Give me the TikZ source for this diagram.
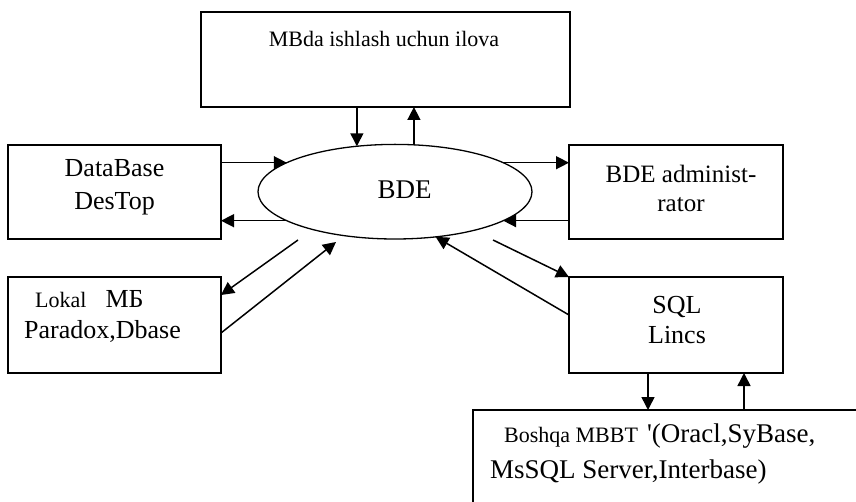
\documentclass[tikz,border=0pt]{standalone}
\usepackage{fontspec}
\setmainfont{Liberation Serif}
\usetikzlibrary{arrows.meta,shapes.geometric}
\tikzset{
    box/.style={draw,line width=1.6pt,inner sep=0pt,outer sep=0pt},
    link/.style={line width=1.5pt,-{Triangle[length=13pt,width=13pt]}},
    bigtxt/.style={font=\fontsize{26}{32}\selectfont,inner sep=0pt},
    smalltxt/.style={font=\fontsize{22}{26}\selectfont,inner sep=0pt},
}
\newcommand{\smallfnt}{\fontsize{22}{26}\selectfont}

\begin{document}
\begin{tikzpicture}[x=1pt,y=-1pt]
\path[use as bounding box,clip] (0,0) rectangle (856,502);

\node[box,minimum width=369pt,minimum height=95pt] (topbox) at (385.5,59.5) {};
\node[box,minimum width=213pt,minimum height=94pt] (dbbox) at (114.5,192) {};
\node[box,minimum width=214pt,minimum height=94pt] (admbox) at (676,192) {};
\node[box,minimum width=213pt,minimum height=96pt] (lokbox) at (114.5,325) {};
\node[box,minimum width=214pt,minimum height=96pt] (sqlbox) at (676,325) {};
\node[box,minimum width=427pt,minimum height=130pt] (othbox) at (686.5,475) {};
\node[draw,ellipse,line width=1.3pt,minimum width=274pt,minimum height=94.6pt,
    inner sep=0pt,outer sep=0pt] (bde) at (395,191.7) {};

% texts (base = last line)
\node[smalltxt,anchor=base] (toptxt) at (384,47) {MBda ishlash uchun ilova};
\node[bigtxt,anchor=base,align=center,font=\fontsize{26}{33}\selectfont]
    (dbtxt) at (114.5,210) {DataBase\\DesTop};
\node[bigtxt,anchor=base,font=\fontsize{27}{32}\selectfont]
    (bdetxt) at (404.5,199) {BDE};
\node[bigtxt,anchor=base,align=center,font=\fontsize{25}{29}\selectfont]
    (admtxt) at (681,211.7) {BDE administ-\\rator};
\node[bigtxt,anchor=base west,align=left,font=\fontsize{26}{30.5}\selectfont]
    (loktxt) at (24,338.3) {\hspace*{11pt}{\smallfnt Lokal}\hspace{19pt}МБ\\Paradox,Dbase};
\node[bigtxt,anchor=base,align=center,font=\fontsize{26}{30}\selectfont]
    (sqltxt) at (677,343.3) {SQL\\Lincs};
\node[bigtxt,anchor=base west,align=left,font=\fontsize{27}{36}\selectfont]
    (othtxt) at (490,478.3) {\hspace*{14pt}{\smallfnt Boshqa MBBT}\hspace{9pt}\textquotesingle(Oracl,SyBase,\\MsSQL Server,Interbase)};

% app <-> BDE
\draw[link] (topbox.south -| bde.130) -- (bde.130);
\draw[link] (bde.68) -- (topbox.south -| bde.68);
% desktop and administrator
\draw[link] (dbbox.east |- bde.165) -- (bde.165);
\draw[link] (bde.195) -- (dbbox.east |- bde.195);
\draw[link] (bde.15) -- (admbox.west |- bde.15);
\draw[link] (admbox.west |- bde.345) -- (bde.345);
% local databases
\coordinate (bdelo) at (298,240);
\coordinate (bdeli) at (336,242);
\draw[link] (bdelo) -- ([shift={(0,-30)}]lokbox.east);
\draw[link] ([shift={(0,8)}]lokbox.east) -- (bdeli);
% sql links
\coordinate (bdeso) at (493,240);
\draw[link] (bdeso) -- (sqlbox.north west);
\draw[link] ([shift={(0,-10)}]sqlbox.west) -- (bde.312);
\coordinate (sqldn) at ([shift={(-28,0)}]sqlbox.south);
\coordinate (sqlup) at ([shift={(68,0)}]sqlbox.south);
\draw[link] (sqldn) -- (sqldn |- othbox.north);
\draw[link] (sqlup |- othbox.north) -- (sqlup);
\end{tikzpicture}
\end{document}
